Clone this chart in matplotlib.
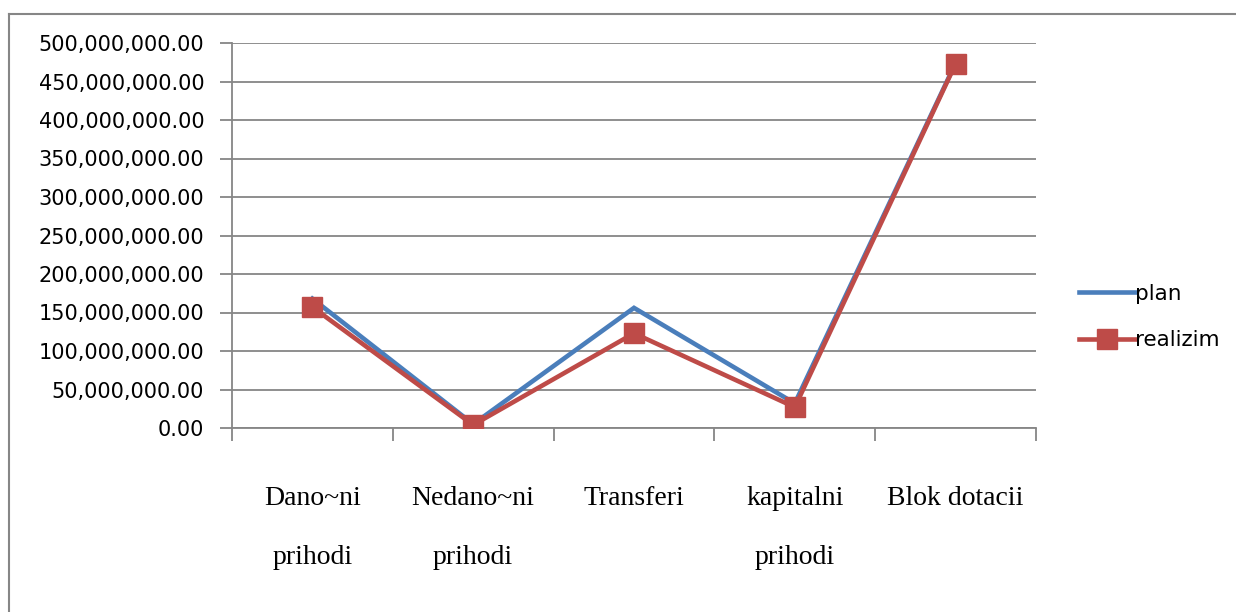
import matplotlib
matplotlib.use("Agg")
import matplotlib.pyplot as plt
from matplotlib.ticker import FuncFormatter, FixedLocator, NullFormatter
from matplotlib.lines import Line2D

categories = ["Dano~ni\nprihodi", "Nedano~ni\nprihodi", "Transferi", "kapitalni\nprihodi", "Blok dotacii"]
plan = [168e6, 5e6, 156e6, 32e6, 474e6]
realizim = [157e6, 4e6, 123e6, 27e6, 473e6]
yticks = [i * 50e6 for i in range(11)]

blue = "#4A7EBB"
red = "#BE4B48"
grid_c = "#868686"

fig = plt.figure(figsize=(12.36, 6.12), dpi=100)
ax = fig.add_axes([232/1236, 184/612, (1036-232)/1236, (428-43)/612])

x = list(range(len(categories)))
ax.plot(x, plan, color=blue, lw=3.3, solid_joinstyle="miter", label="plan", zorder=3)
ax.plot(x, realizim, color=red, lw=3.3, marker="s", markersize=14, solid_joinstyle="miter",
        label="realizim", zorder=4)

ax.set_xlim(-0.5, len(categories) - 0.5)
ax.set_ylim(0, 500e6)
ax.set_yticks(yticks)
ax.yaxis.set_major_formatter(FuncFormatter(lambda v, p: f"{v:,.2f}"))
ax.grid(axis="y", color=grid_c, lw=1.3)
ax.set_axisbelow(True)

ax.xaxis.set_major_locator(FixedLocator([i - 0.5 for i in range(len(categories) + 1)]))
ax.xaxis.set_major_formatter(NullFormatter())
ax.xaxis.set_minor_locator(FixedLocator(x))
ax.set_xticklabels(categories, minor=True, fontfamily="Liberation Serif", fontsize=20,
                   linespacing=2.75, va="top")
ax.tick_params(axis="x", which="minor", length=0, pad=42)
ax.tick_params(axis="x", which="major", length=9, width=1.3, color=grid_c)
ax.tick_params(axis="y", length=9, width=1.3, color=grid_c, labelsize=15, pad=11)
for lab in ax.get_yticklabels():
    lab.set_fontfamily("DejaVu Sans")

for s in ["top", "right"]:
    ax.spines[s].set_visible(False)
for s in ["left", "bottom"]:
    ax.spines[s].set_color(grid_c)
    ax.spines[s].set_linewidth(1.3)

handles = [Line2D([], [], color=blue, lw=3.3),
           Line2D([], [], color=red, lw=3.3, marker="s", markersize=14)]
fig.legend(handles, ["plan", "realizim"], loc="center left", bbox_to_anchor=(1060/1236, 1 - 317/612),
           frameon=False, handlelength=2.6, handletextpad=0.0, labelspacing=1.25,
           prop={"family": "DejaVu Sans", "size": 15.5})

# outer chart border
fig.add_artist(Line2D([9/1236, 9/1236], [0, 1 - 14/612], color=grid_c, lw=1.5, transform=fig.transFigure))
fig.add_artist(Line2D([9/1236, 1236/1236], [1 - 14/612, 1 - 14/612], color=grid_c, lw=1.5, transform=fig.transFigure))

fig.savefig("out.png", dpi=100)
